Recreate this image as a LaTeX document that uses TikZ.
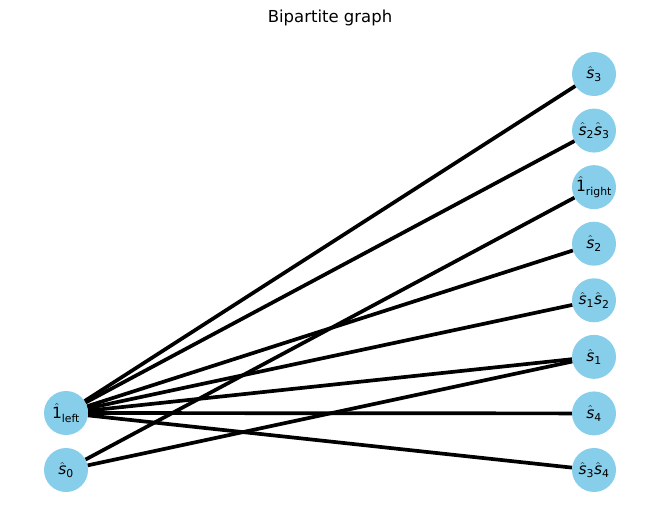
\documentclass[tikz,border=0pt]{standalone}
\usepackage{amsmath}
\usepackage{fontspec}
\setmainfont{DejaVu Sans}
\usepackage{xcolor}
\definecolor{skyblue}{HTML}{87CEEB}
\newcommand{\hs}[1]{\hat{\text{\itshape s}}_{\text{#1}}}

\begin{document}
\begin{tikzpicture}[x=1pt,y=-1pt,
    vtx/.style={circle,fill=skyblue,minimum size=44pt,inner sep=0pt,font=\fontsize{15.5}{17}\selectfont},
    edge/.style={line width=3.7pt,black}]
    \useasboundingbox (0,0) rectangle (660,522);
    \node[font=\fontsize{16.5}{19}\selectfont] (title) at (330,18) {Bipartite graph};
    \node[vtx] (oneleft) at (66,413) {$\hat{\text{1}}_{\text{left}}$};
    \node[vtx] (s0) at (66,470) {$\hs{0}$};
    \foreach \name/\lab [count=\i from 0] in {s3/{$\hs{3}$},s2s3/{$\hs{2}\hs{3}$},oneright/{$\hat{\text{1}}_{\text{right}}$},s2/{$\hs{2}$},s1s2/{$\hs{1}\hs{2}$},s1/{$\hs{1}$},s4/{$\hs{4}$},s3s4/{$\hs{3}\hs{4}$}}
    \node[vtx] (\name) at (594,{74+56.57*\i}) {\lab};
    % edges
    \foreach \t in {s3,s2s3,s2,s1s2,s1,s4,s3s4}
    \draw[edge] (oneleft) -- (\t);
    \draw[edge] (s0) -- (oneright);
    \draw[edge] (s0) -- (s1);
\end{tikzpicture}
\end{document}
